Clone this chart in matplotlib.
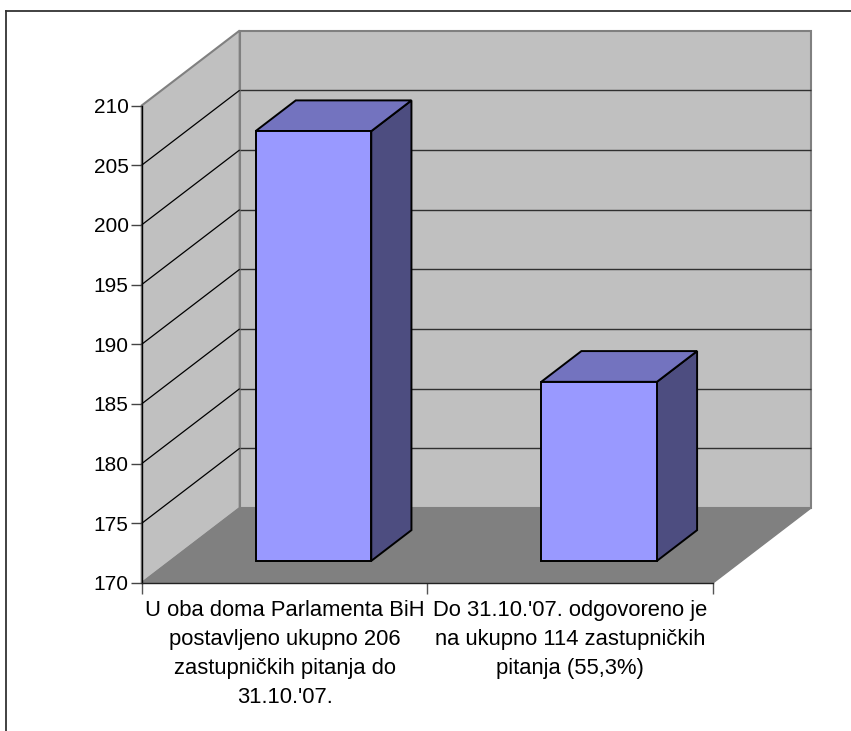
import matplotlib
matplotlib.use('Agg')
import matplotlib.pyplot as plt
from matplotlib.lines import Line2D
from matplotlib.patches import Polygon

plt.rcParams['font.family'] = ['Liberation Sans', 'DejaVu Sans']

# chart values
categories = ["U oba doma Parlamenta BiH\npostavljeno ukupno 206\nzastupničkih pitanja do\n31.10.'07.",
              "Do 31.10.'07. odgovoreno je\nna ukupno 114 zastupničkih\npitanja (55,3%)"]
values = [206, 185]
y_ticks = [170, 175, 180, 185, 190, 195, 200, 205, 210]

W, H = 851, 731
# depth of the fake 3d box, in data units
DX = 0.343
DY = 6.28
bar_width = 0.405
d_front = 0.295
d_back = 0.705


def project(x, v, d):
    return (x + d * DX, v + d * DY)


def face(ax, pts, color, edge, lw=1.2, z=2):
    ax.add_patch(Polygon([project(*p) for p in pts], closed=True, facecolor=color,
                         edgecolor=edge, linewidth=lw, zorder=z, clip_on=False,
                         joinstyle='miter'))


fig = plt.figure(figsize=(W / 100, H / 100), dpi=100)
ax = fig.add_axes([141.7 / W, 1 - 583 / H, 571.3 / W, 477.5 / H])
ax.set_xlim(0, 2)
ax.set_ylim(170, 210)
ax.patch.set_visible(False)

ymin, ymax = y_ticks[0], y_ticks[-1]

# walls and floor
face(ax, [(0, ymin, 1), (2, ymin, 1), (2, ymax, 1), (0, ymax, 1)], '#c0c0c0', '#808080', 1.5, 1)
face(ax, [(0, ymin, 0), (0, ymin, 1), (0, ymax, 1), (0, ymax, 0)], '#c0c0c0', '#808080', 1.5, 1)
face(ax, [(0, ymin, 0), (2, ymin, 0), (2, ymin, 1), (0, ymin, 1)], '#808080', '#808080', 1.0, 1)

# gridlines go over both walls
for v in y_ticks[1:-1]:
    a = project(0, v, 0)
    b = project(0, v, 1)
    c = project(2, v, 1)
    ax.plot([a[0], b[0]], [a[1], b[1]], color='black', lw=0.9, zorder=1.5, clip_on=False,
            solid_capstyle='butt')
    ax.plot([b[0], c[0]], [b[1], c[1]], color='#303030', lw=1.0, zorder=1.5, clip_on=False,
            solid_capstyle='butt')

# bars
for i, val in enumerate(values):
    x0 = i + 0.5 - bar_width / 2
    x1 = i + 0.5 + bar_width / 2
    base = ymin
    face(ax, [(x1, base, d_front), (x1, base, d_back), (x1, val, d_back), (x1, val, d_front)], '#4d4d80', 'black', 1.4, 3)
    face(ax, [(x0, val, d_front), (x1, val, d_front), (x1, val, d_back), (x0, val, d_back)], '#7373bf', 'black', 1.4, 3)
    face(ax, [(x0, base, d_front), (x1, base, d_front), (x1, val, d_front), (x0, val, d_front)], '#9999ff', 'black', 1.4, 4)

# axes
for s in ['top', 'right']:
    ax.spines[s].set_visible(False)
ax.spines['left'].set_color('black')
ax.spines['bottom'].set_color('#222222')
ax.spines['left'].set_linewidth(1.0)
ax.spines['bottom'].set_linewidth(1.0)
ax.spines['left'].set_zorder(5)
ax.spines['bottom'].set_zorder(5)

ax.set_yticks(y_ticks)
ax.tick_params(axis='y', length=8, width=1.0, color='#444444', labelsize=15, pad=1.5)
ax.set_xticks([0, 1, 2])
ax.set_xticklabels([])
ax.set_xticks([0.5, 1.5], minor=True)
ax.set_xticklabels(categories, minor=True, linespacing=1.51, ha='center', va='top')
ax.tick_params(axis='x', which='major', length=8, width=1.0, color='#555555')
ax.tick_params(axis='x', which='minor', length=0, labelsize=15.8, pad=12)

# border of the original picture, open at right and bottom
fig.add_artist(Line2D([6 / W, 6 / W], [0, 1 - 10.5 / H], color='#333333', lw=1.3))
fig.add_artist(Line2D([6 / W, 1], [1 - 10.5 / H, 1 - 10.5 / H], color='#333333', lw=1.3))

fig.savefig('out.png', dpi=100)
